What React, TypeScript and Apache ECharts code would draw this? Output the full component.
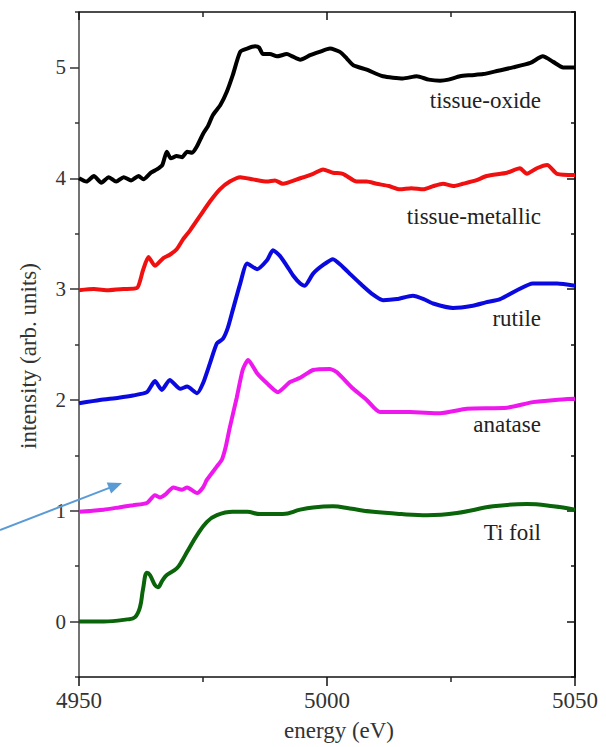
import React, { useEffect, useRef } from "react";
import * as echarts from "echarts";

// energy (eV) and intensity (arb. units)
const oxideX = [4950, 4951.5, 4953, 4954.5, 4956, 4957.5, 4959, 4960.5, 4962, 4963, 4964.5, 4965.7, 4966.8, 4967.7, 4968.5, 4969.7, 4970.8, 4971.8, 4972.8, 4973.8, 4975, 4976, 4977, 4978.5, 4979.8, 4981, 4982.5, 4983.9, 4985.5, 4986.3, 4987.1, 4988.5, 4989.9, 4991.9, 4993, 4994.6, 4996.6, 4998.5, 5000.6, 5002.6, 5004, 5005.3, 5008, 5011.3, 5015.3, 5018.1, 5020.5, 5022.8, 5024.5, 5026.8, 5029, 5031.5, 5034.5, 5037.5, 5041, 5043.5, 5045.6, 5047.6, 5050];
const oxideY = [4.0, 3.97, 4.02, 3.96, 4.01, 3.97, 4.01, 3.98, 4.02, 3.99, 4.05, 4.08, 4.12, 4.24, 4.18, 4.2, 4.19, 4.24, 4.23, 4.29, 4.4, 4.47, 4.57, 4.66, 4.78, 4.93, 5.14, 5.17, 5.19, 5.18, 5.12, 5.12, 5.1, 5.12, 5.1, 5.07, 5.11, 5.14, 5.17, 5.14, 5.08, 5.02, 4.98, 4.92, 4.9, 4.92, 4.89, 4.88, 4.89, 4.92, 4.93, 4.94, 4.97, 5.0, 5.04, 5.1, 5.05, 5.0, 5.0];

const metallicX = [4950, 4953, 4956, 4959, 4961.7, 4962.9, 4964, 4965.3, 4967, 4968.3, 4969.7, 4971, 4972.4, 4974.4, 4976.4, 4978.4, 4980.4, 4982.5, 4985.1, 4987.9, 4989.5, 4991.1, 4994.6, 4997.2, 4999.2, 5001.2, 5003.2, 5006, 5008, 5010, 5012.5, 5014.7, 5017, 5019.4, 5021.5, 5023.4, 5025.5, 5027.4, 5030, 5032.2, 5036.3, 5038.9, 5040.3, 5042.3, 5044.4, 5046.4, 5050];
const metallicY = [2.99, 3.0, 2.99, 3.0, 3.01, 3.17, 3.29, 3.21, 3.28, 3.31, 3.36, 3.45, 3.53, 3.66, 3.79, 3.9, 3.97, 4.01, 3.99, 3.97, 3.98, 3.95, 4.0, 4.04, 4.08, 4.05, 4.04, 3.97, 3.97, 3.95, 3.93, 3.9, 3.91, 3.9, 3.93, 3.95, 3.93, 3.95, 3.98, 4.02, 4.05, 4.09, 4.04, 4.09, 4.12, 4.04, 4.03];

const rutileX = [4950, 4954.2, 4958, 4960.9, 4963.7, 4965.3, 4966.7, 4968.3, 4970.4, 4971.8, 4973.8, 4975, 4976.4, 4977.8, 4979, 4980, 4981, 4982.5, 4983.9, 4985.9, 4987.9, 4989.1, 4990.5, 4991.9, 4993.2, 4994.6, 4995.5, 4997.2, 4999.3, 5001.2, 5003.2, 5004.8, 5006.7, 5009, 5011.3, 5014.1, 5017.3, 5019.5, 5021.4, 5025.4, 5029.4, 5032, 5034.9, 5038.3, 5041.5, 5046.4, 5050];
const rutileY = [1.97, 2.0, 2.02, 2.04, 2.07, 2.17, 2.09, 2.18, 2.1, 2.12, 2.06, 2.15, 2.33, 2.51, 2.55, 2.65, 2.81, 3.05, 3.23, 3.18, 3.26, 3.35, 3.3, 3.21, 3.12, 3.05, 3.03, 3.14, 3.22, 3.27, 3.2, 3.13, 3.05, 2.96, 2.9, 2.91, 2.94, 2.91, 2.87, 2.83, 2.85, 2.88, 2.91, 2.99, 3.05, 3.05, 3.03];

const anataseX = [4950, 4955, 4958, 4960.9, 4963.7, 4965.3, 4966.3, 4967.5, 4969, 4970.8, 4971.8, 4973.8, 4975, 4975.8, 4977.8, 4978.8, 4979.6, 4980.4, 4981.8, 4983, 4984.1, 4985.9, 4987.9, 4990.1, 4992.5, 4994.6, 4997.2, 5000.6, 5002, 5005.3, 5008, 5010.7, 5016.7, 5022.8, 5028.2, 5036.3, 5041.5, 5046, 5050];
const anataseY = [0.99, 1.01, 1.03, 1.05, 1.07, 1.14, 1.12, 1.15, 1.21, 1.19, 1.21, 1.16, 1.21, 1.28, 1.4, 1.46, 1.58, 1.75, 2.02, 2.27, 2.36, 2.24, 2.15, 2.07, 2.16, 2.2, 2.27, 2.28, 2.25, 2.1, 2.0, 1.89, 1.89, 1.88, 1.92, 1.93, 1.98, 2.0, 2.01];

const foilX = [4950, 4955, 4959.7, 4961.3, 4962.3, 4962.9, 4963.7, 4964.3, 4965.3, 4965.9, 4966.8, 4967.7, 4969.7, 4970.8, 4971.8, 4973.8, 4975.8, 4977.8, 4981, 4983.9, 4986.5, 4991.1, 4994.6, 4997.2, 5001.2, 5004.6, 5009.3, 5015, 5020.2, 5026.2, 5033.5, 5040.3, 5045.6, 5050];
const foilY = [0.0, 0.0, 0.02, 0.04, 0.13, 0.29, 0.44, 0.42, 0.33, 0.31, 0.37, 0.42, 0.48, 0.55, 0.63, 0.78, 0.9, 0.96, 0.99, 0.99, 0.97, 0.97, 1.01, 1.03, 1.04, 1.02, 0.99, 0.97, 0.96, 0.98, 1.04, 1.06, 1.04, 1.01];

const seriesNames = ["tissue-oxide", "tissue-metallic", "rutile", "anatase", "Ti foil"];
const seriesColors = ["#000000", "#f01010", "#0a0ae0", "#ee18ee", "#0a640a"];

const yMajorTicks = [0, 1, 2, 3, 4, 5];
const yMinorTicks = [-0.5, 0.5, 1.5, 2.5, 3.5, 4.5, 5.5];

const FONT = "'Liberation Serif', 'Times New Roman', Times, serif";

const zip = (xs: number[], ys: number[]) => xs.map((x, i) => [x, ys[i]]);

export default function App() {
  const ref = useRef<HTMLDivElement>(null);
  useEffect(() => {
    if (!ref.current) return;
    const chart = echarts.init(ref.current, undefined, { renderer: "svg" });
    const data = [
      zip(oxideX, oxideY),
      zip(metallicX, metallicY),
      zip(rutileX, rutileY),
      zip(anataseX, anataseY),
      zip(foilX, foilY),
    ];
    const labelY = [100, 216, 318, 424, 532];
    const yBase = {
      type: "value",
      min: -0.5,
      max: 5.5,
      splitLine: { show: false },
      gridIndex: 0,
    };
    const xBase = {
      type: "value",
      min: 4950,
      max: 5050,
      interval: 50,
      splitLine: { show: false },
      minorTick: { show: true, splitNumber: 2, length: 5, lineStyle: { color: "#222", width: 1.5 } },
    };
    const option: any = {
      animation: false,
      backgroundColor: "#ffffff",
      textStyle: { fontFamily: FONT },
      grid: { left: 79, right: 31, top: 12, bottom: 70, containLabel: false, outerBoundsMode: "none" },
      xAxis: [
        {
          ...xBase,
          position: "bottom",
          axisLine: { onZero: false, lineStyle: { color: "#111", width: 1.5 } },
          axisTick: { length: 9, lineStyle: { color: "#111", width: 1.5 } },
          axisLabel: {
            fontSize: 23,
            fontFamily: FONT,
            color: "#333",
            margin: 12,
            formatter: (v: number) => String(v),
          },
        },
        {
          ...xBase,
          position: "top",
          axisLine: { onZero: false, lineStyle: { color: "#111", width: 1.5 } },
          axisTick: { inside: true, length: 8, lineStyle: { color: "#111", width: 1.5 } },
          axisLabel: { show: false },
        },
      ],
      yAxis: [
        {
          ...yBase,
          position: "left",
          axisLine: { onZero: false, lineStyle: { color: "#444", width: 1.5 } },
          axisTick: { customValues: yMajorTicks, length: 9, lineStyle: { color: "#333", width: 1.5 } },
          axisLabel: {
            customValues: yMajorTicks,
            fontSize: 21,
            fontFamily: FONT,
            color: "#333",
            margin: 13,
            formatter: (v: number) => String(v),
          },
        },
        {
          ...yBase,
          position: "left",
          offset: 0,
          axisLine: { show: false, onZero: false },
          axisTick: { customValues: yMinorTicks, length: 4, lineStyle: { color: "#333", width: 1.5 } },
          axisLabel: { show: false },
        },
        {
          ...yBase,
          position: "right",
          offset: 0,
          axisLine: { onZero: false, lineStyle: { color: "#111", width: 2 } },
          axisTick: { inside: true, customValues: yMajorTicks, length: 8, lineStyle: { color: "#111", width: 1.5 } },
          axisLabel: { show: false },
        },
        {
          ...yBase,
          position: "right",
          offset: 0,
          axisLine: { show: false, onZero: false },
          axisTick: { inside: true, customValues: yMinorTicks, length: 4, lineStyle: { color: "#111", width: 1.5 } },
          axisLabel: { show: false },
        },
      ],
      series: data.map((d, i) => ({
        name: seriesNames[i],
        type: "line",
        data: d,
        xAxisIndex: 0,
        yAxisIndex: 0,
        showSymbol: false,
        smooth: i === 4 ? 0.4 : 0.2,
        lineStyle: { color: seriesColors[i], width: 4 },
        itemStyle: { color: seriesColors[i] },
        z: 3,
      })),
      graphic: [
        ...seriesNames.map((n, i) => ({
          type: "text",
          x: 541,
          y: labelY[i],
          z: 10,
          style: {
            text: n,
            fontSize: 23,
            fontFamily: FONT,
            fill: "#222",
            align: "right",
            verticalAlign: "middle",
          },
        })),
        {
          type: "text",
          x: 339,
          y: 730,
          style: {
            text: "energy (eV)",
            fontSize: 23,
            fontFamily: FONT,
            fill: "#333",
            align: "center",
            verticalAlign: "middle",
          },
        },
        {
          type: "text",
          x: 28,
          y: 356,
          rotation: Math.PI / 2,
          style: {
            text: "intensity (arb. units)",
            fontSize: 23,
            fontFamily: FONT,
            fill: "#333",
            align: "center",
            verticalAlign: "middle",
          },
        },
        {
          type: "line",
          z: 20,
          shape: { x1: 0, y1: 530, x2: 110, y2: 487.6 },
          style: { stroke: "#5b9bd5", lineWidth: 2 },
        },
        {
          type: "polygon",
          z: 20,
          shape: { points: [[122, 483], [111.1, 493.6], [106.7, 482.4]] },
          style: { fill: "#5b9bd5" },
        },
      ],
    };
    chart.setOption(option);
    return () => chart.dispose();
  }, []);
  return (
    <div
      ref={ref}
      style={{ position: "absolute", left: 0, top: 0, width: 606, height: 747, background: "#fff" }}
    />
  );
}
